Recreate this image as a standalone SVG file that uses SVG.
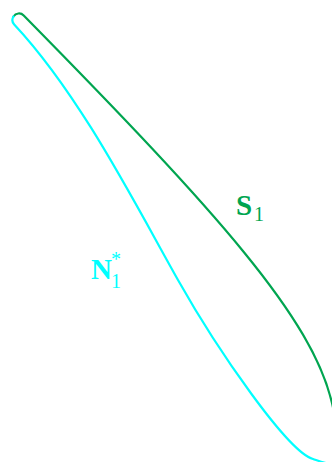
<svg xmlns="http://www.w3.org/2000/svg" width="332" height="462" viewBox="0 0 332 462">
<style>
.curve{fill:none;stroke-width:2.2;stroke-linecap:round;stroke-linejoin:round}
.g{stroke:#00a550}
.c{stroke:#00ffff}
.lbl{font-family:"Liberation Serif","Times New Roman",serif}
.tg{fill:#00a550}
.tc{fill:#00ffff}
.b{font-weight:bold;font-size:29px}
.s{font-size:20px}
</style>
<rect width="332" height="462" fill="#ffffff"/>
<g id="connectors">
<path id="S1-curve" class="curve g" d="M13.5,16.5 A6.5,6.5 0 0 1 23.7,15.5 C220,215 312,318 332,403 C336,420 338,432 340,445"/>
<path id="N1-curve" class="curve c" d="M13.5,16.5 A6.5,6.5 0 0 0 14.2,24.4 C80,95 133,200 178,280 C218,351 288,452 313,459 C322,462 330,465 340,466"/>
</g>
<g id="label-S1" class="lbl tg">
<text class="b" x="236" y="215">S</text>
<text class="s" x="254" y="221">1</text>
</g>
<g id="label-N1" class="lbl tc">
<text class="b" x="91" y="279">N</text>
<text class="s" x="111" y="266">*</text>
<text class="s" x="111" y="288">1</text>
</g>
</svg>
